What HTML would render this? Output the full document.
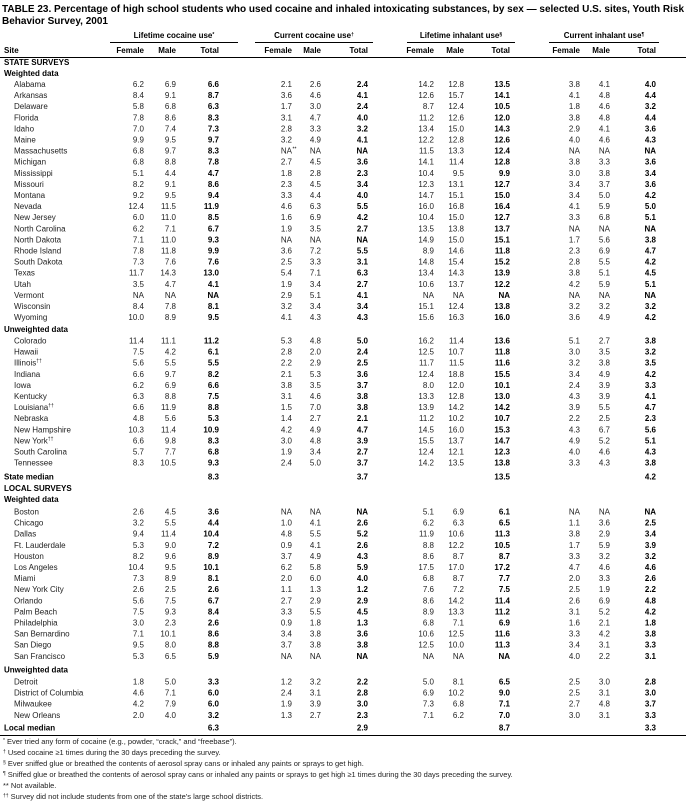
<!DOCTYPE html>
<html><head><meta charset="utf-8"><style>
html,body{margin:0;padding:0;background:#fff;}
svg{display:block;}
text{font-family:"Liberation Sans",Arial,sans-serif;fill:#000;}
.t{font-size:10px;font-weight:bold;}
.h{font-size:8px;font-weight:bold;}
.l{font-size:8px;fill:#222;}
.v{font-size:8px;fill:#222;text-anchor:end;}
.b{font-weight:bold;fill:#000;}
.c{font-size:8px;font-weight:bold;text-anchor:middle;}
.ch{font-size:8px;font-weight:bold;text-anchor:end;}
.f{font-size:7.5px;fill:#222;}
.s{font-size:5px;}
</style></head><body>
<svg width="686" height="803" viewBox="0 0 686 803" xmlns="http://www.w3.org/2000/svg">
<text class="t" x="2" y="12" textLength="682" lengthAdjust="spacingAndGlyphs">TABLE 23. Percentage of high school students who used cocaine and inhaled intoxicating substances, by sex — selected U.S. sites, Youth Risk</text>
<text class="t" x="2" y="24">Behavior Survey, 2001</text>

<text class="c" x="174" y="38">Lifetime cocaine use<tspan class="s" dy="-2">*</tspan></text>
<text class="c" x="314" y="38">Current cocaine use<tspan class="s" dy="-2">†</tspan></text>
<text class="c" x="461" y="38">Lifetime inhalant use<tspan class="s" dy="-2">§</tspan></text>
<text class="c" x="604" y="38">Current inhalant use<tspan class="s" dy="-2">¶</tspan></text>
<g stroke="#000" stroke-width="1">
<line x1="110" y1="42.5" x2="238" y2="42.5"/>
<line x1="255" y1="42.5" x2="373" y2="42.5"/>
<line x1="407" y1="42.5" x2="515" y2="42.5"/>
<line x1="549" y1="42.5" x2="659" y2="42.5"/>
<line x1="0" y1="57.5" x2="686" y2="57.5"/>
<line x1="0" y1="735.5" x2="686" y2="735.5"/>
</g>
<text class="h" x="4" y="53">Site</text>
<text class="ch" y="53"><tspan x="144">Female</tspan><tspan x="176">Male</tspan><tspan x="219">Total</tspan><tspan x="292">Female</tspan><tspan x="321">Male</tspan><tspan x="368">Total</tspan><tspan x="434">Female</tspan><tspan x="464">Male</tspan><tspan x="510">Total</tspan><tspan x="580">Female</tspan><tspan x="610">Male</tspan><tspan x="656">Total</tspan></text>

<text class="h" x="4" y="65">STATE SURVEYS</text>
<text class="h" x="4" y="76">Weighted data</text>

<text class="l" x="14" y="87">Alabama</text><text class="v" y="87"><tspan x="144">6.2</tspan><tspan x="176">6.9</tspan><tspan x="219" class="b">6.6</tspan><tspan x="292">2.1</tspan><tspan x="321">2.6</tspan><tspan x="368" class="b">2.4</tspan><tspan x="434">14.2</tspan><tspan x="464">12.8</tspan><tspan x="510" class="b">13.5</tspan><tspan x="580">3.8</tspan><tspan x="610">4.1</tspan><tspan x="656" class="b">4.0</tspan></text>
<text class="l" x="14" y="98.1">Arkansas</text><text class="v" y="98.1"><tspan x="144">8.4</tspan><tspan x="176">9.1</tspan><tspan x="219" class="b">8.7</tspan><tspan x="292">3.6</tspan><tspan x="321">4.6</tspan><tspan x="368" class="b">4.1</tspan><tspan x="434">12.6</tspan><tspan x="464">15.7</tspan><tspan x="510" class="b">14.1</tspan><tspan x="580">4.1</tspan><tspan x="610">4.8</tspan><tspan x="656" class="b">4.4</tspan></text>
<text class="l" x="14" y="109.2">Delaware</text><text class="v" y="109.2"><tspan x="144">5.8</tspan><tspan x="176">6.8</tspan><tspan x="219" class="b">6.3</tspan><tspan x="292">1.7</tspan><tspan x="321">3.0</tspan><tspan x="368" class="b">2.4</tspan><tspan x="434">8.7</tspan><tspan x="464">12.4</tspan><tspan x="510" class="b">10.5</tspan><tspan x="580">1.8</tspan><tspan x="610">4.6</tspan><tspan x="656" class="b">3.2</tspan></text>
<text class="l" x="14" y="120.3">Florida</text><text class="v" y="120.3"><tspan x="144">7.8</tspan><tspan x="176">8.6</tspan><tspan x="219" class="b">8.3</tspan><tspan x="292">3.1</tspan><tspan x="321">4.7</tspan><tspan x="368" class="b">4.0</tspan><tspan x="434">11.2</tspan><tspan x="464">12.6</tspan><tspan x="510" class="b">12.0</tspan><tspan x="580">3.8</tspan><tspan x="610">4.8</tspan><tspan x="656" class="b">4.4</tspan></text>
<text class="l" x="14" y="131.4">Idaho</text><text class="v" y="131.4"><tspan x="144">7.0</tspan><tspan x="176">7.4</tspan><tspan x="219" class="b">7.3</tspan><tspan x="292">2.8</tspan><tspan x="321">3.3</tspan><tspan x="368" class="b">3.2</tspan><tspan x="434">13.4</tspan><tspan x="464">15.0</tspan><tspan x="510" class="b">14.3</tspan><tspan x="580">2.9</tspan><tspan x="610">4.1</tspan><tspan x="656" class="b">3.6</tspan></text>
<text class="l" x="14" y="142.5">Maine</text><text class="v" y="142.5"><tspan x="144">9.9</tspan><tspan x="176">9.5</tspan><tspan x="219" class="b">9.7</tspan><tspan x="292">3.2</tspan><tspan x="321">4.9</tspan><tspan x="368" class="b">4.1</tspan><tspan x="434">12.2</tspan><tspan x="464">12.8</tspan><tspan x="510" class="b">12.6</tspan><tspan x="580">4.0</tspan><tspan x="610">4.6</tspan><tspan x="656" class="b">4.3</tspan></text>
<text class="l" x="14" y="153.6">Massachusetts</text><text class="v" y="153.6"><tspan x="144">6.8</tspan><tspan x="176">9.7</tspan><tspan x="219" class="b">8.3</tspan><tspan x="292">NA</tspan><tspan x="321">NA</tspan><tspan x="368" class="b">NA</tspan><tspan x="434">11.5</tspan><tspan x="464">13.3</tspan><tspan x="510" class="b">12.4</tspan><tspan x="580">NA</tspan><tspan x="610">NA</tspan><tspan x="656" class="b">NA</tspan></text><text class="s" x="292.5" y="150.5">**</text>
<text class="l" x="14" y="164.7">Michigan</text><text class="v" y="164.7"><tspan x="144">6.8</tspan><tspan x="176">8.8</tspan><tspan x="219" class="b">7.8</tspan><tspan x="292">2.7</tspan><tspan x="321">4.5</tspan><tspan x="368" class="b">3.6</tspan><tspan x="434">14.1</tspan><tspan x="464">11.4</tspan><tspan x="510" class="b">12.8</tspan><tspan x="580">3.8</tspan><tspan x="610">3.3</tspan><tspan x="656" class="b">3.6</tspan></text>
<text class="l" x="14" y="175.8">Mississippi</text><text class="v" y="175.8"><tspan x="144">5.1</tspan><tspan x="176">4.4</tspan><tspan x="219" class="b">4.7</tspan><tspan x="292">1.8</tspan><tspan x="321">2.8</tspan><tspan x="368" class="b">2.3</tspan><tspan x="434">10.4</tspan><tspan x="464">9.5</tspan><tspan x="510" class="b">9.9</tspan><tspan x="580">3.0</tspan><tspan x="610">3.8</tspan><tspan x="656" class="b">3.4</tspan></text>
<text class="l" x="14" y="186.9">Missouri</text><text class="v" y="186.9"><tspan x="144">8.2</tspan><tspan x="176">9.1</tspan><tspan x="219" class="b">8.6</tspan><tspan x="292">2.3</tspan><tspan x="321">4.5</tspan><tspan x="368" class="b">3.4</tspan><tspan x="434">12.3</tspan><tspan x="464">13.1</tspan><tspan x="510" class="b">12.7</tspan><tspan x="580">3.4</tspan><tspan x="610">3.7</tspan><tspan x="656" class="b">3.6</tspan></text>
<text class="l" x="14" y="198">Montana</text><text class="v" y="198"><tspan x="144">9.2</tspan><tspan x="176">9.5</tspan><tspan x="219" class="b">9.4</tspan><tspan x="292">3.3</tspan><tspan x="321">4.4</tspan><tspan x="368" class="b">4.0</tspan><tspan x="434">14.7</tspan><tspan x="464">15.1</tspan><tspan x="510" class="b">15.0</tspan><tspan x="580">3.4</tspan><tspan x="610">5.0</tspan><tspan x="656" class="b">4.2</tspan></text>
<text class="l" x="14" y="209.1">Nevada</text><text class="v" y="209.1"><tspan x="144">12.4</tspan><tspan x="176">11.5</tspan><tspan x="219" class="b">11.9</tspan><tspan x="292">4.6</tspan><tspan x="321">6.3</tspan><tspan x="368" class="b">5.5</tspan><tspan x="434">16.0</tspan><tspan x="464">16.8</tspan><tspan x="510" class="b">16.4</tspan><tspan x="580">4.1</tspan><tspan x="610">5.9</tspan><tspan x="656" class="b">5.0</tspan></text>
<text class="l" x="14" y="220.2">New Jersey</text><text class="v" y="220.2"><tspan x="144">6.0</tspan><tspan x="176">11.0</tspan><tspan x="219" class="b">8.5</tspan><tspan x="292">1.6</tspan><tspan x="321">6.9</tspan><tspan x="368" class="b">4.2</tspan><tspan x="434">10.4</tspan><tspan x="464">15.0</tspan><tspan x="510" class="b">12.7</tspan><tspan x="580">3.3</tspan><tspan x="610">6.8</tspan><tspan x="656" class="b">5.1</tspan></text>
<text class="l" x="14" y="231.3">North Carolina</text><text class="v" y="231.3"><tspan x="144">6.2</tspan><tspan x="176">7.1</tspan><tspan x="219" class="b">6.7</tspan><tspan x="292">1.9</tspan><tspan x="321">3.5</tspan><tspan x="368" class="b">2.7</tspan><tspan x="434">13.5</tspan><tspan x="464">13.8</tspan><tspan x="510" class="b">13.7</tspan><tspan x="580">NA</tspan><tspan x="610">NA</tspan><tspan x="656" class="b">NA</tspan></text>
<text class="l" x="14" y="242.4">North Dakota</text><text class="v" y="242.4"><tspan x="144">7.1</tspan><tspan x="176">11.0</tspan><tspan x="219" class="b">9.3</tspan><tspan x="292">NA</tspan><tspan x="321">NA</tspan><tspan x="368" class="b">NA</tspan><tspan x="434">14.9</tspan><tspan x="464">15.0</tspan><tspan x="510" class="b">15.1</tspan><tspan x="580">1.7</tspan><tspan x="610">5.6</tspan><tspan x="656" class="b">3.8</tspan></text>
<text class="l" x="14" y="253.5">Rhode Island</text><text class="v" y="253.5"><tspan x="144">7.8</tspan><tspan x="176">11.8</tspan><tspan x="219" class="b">9.9</tspan><tspan x="292">3.6</tspan><tspan x="321">7.2</tspan><tspan x="368" class="b">5.5</tspan><tspan x="434">8.9</tspan><tspan x="464">14.6</tspan><tspan x="510" class="b">11.8</tspan><tspan x="580">2.3</tspan><tspan x="610">6.9</tspan><tspan x="656" class="b">4.7</tspan></text>
<text class="l" x="14" y="264.6">South Dakota</text><text class="v" y="264.6"><tspan x="144">7.3</tspan><tspan x="176">7.6</tspan><tspan x="219" class="b">7.6</tspan><tspan x="292">2.5</tspan><tspan x="321">3.3</tspan><tspan x="368" class="b">3.1</tspan><tspan x="434">14.8</tspan><tspan x="464">15.4</tspan><tspan x="510" class="b">15.2</tspan><tspan x="580">2.8</tspan><tspan x="610">5.5</tspan><tspan x="656" class="b">4.2</tspan></text>
<text class="l" x="14" y="275.7">Texas</text><text class="v" y="275.7"><tspan x="144">11.7</tspan><tspan x="176">14.3</tspan><tspan x="219" class="b">13.0</tspan><tspan x="292">5.4</tspan><tspan x="321">7.1</tspan><tspan x="368" class="b">6.3</tspan><tspan x="434">13.4</tspan><tspan x="464">14.3</tspan><tspan x="510" class="b">13.9</tspan><tspan x="580">3.8</tspan><tspan x="610">5.1</tspan><tspan x="656" class="b">4.5</tspan></text>
<text class="l" x="14" y="286.8">Utah</text><text class="v" y="286.8"><tspan x="144">3.5</tspan><tspan x="176">4.7</tspan><tspan x="219" class="b">4.1</tspan><tspan x="292">1.9</tspan><tspan x="321">3.4</tspan><tspan x="368" class="b">2.7</tspan><tspan x="434">10.6</tspan><tspan x="464">13.7</tspan><tspan x="510" class="b">12.2</tspan><tspan x="580">4.2</tspan><tspan x="610">5.9</tspan><tspan x="656" class="b">5.1</tspan></text>
<text class="l" x="14" y="297.9">Vermont</text><text class="v" y="297.9"><tspan x="144">NA</tspan><tspan x="176">NA</tspan><tspan x="219" class="b">NA</tspan><tspan x="292">2.9</tspan><tspan x="321">5.1</tspan><tspan x="368" class="b">4.1</tspan><tspan x="434">NA</tspan><tspan x="464">NA</tspan><tspan x="510" class="b">NA</tspan><tspan x="580">NA</tspan><tspan x="610">NA</tspan><tspan x="656" class="b">NA</tspan></text>
<text class="l" x="14" y="309">Wisconsin</text><text class="v" y="309"><tspan x="144">8.4</tspan><tspan x="176">7.8</tspan><tspan x="219" class="b">8.1</tspan><tspan x="292">3.2</tspan><tspan x="321">3.4</tspan><tspan x="368" class="b">3.4</tspan><tspan x="434">15.1</tspan><tspan x="464">12.4</tspan><tspan x="510" class="b">13.8</tspan><tspan x="580">3.2</tspan><tspan x="610">3.2</tspan><tspan x="656" class="b">3.2</tspan></text>
<text class="l" x="14" y="320.1">Wyoming</text><text class="v" y="320.1"><tspan x="144">10.0</tspan><tspan x="176">8.9</tspan><tspan x="219" class="b">9.5</tspan><tspan x="292">4.1</tspan><tspan x="321">4.3</tspan><tspan x="368" class="b">4.3</tspan><tspan x="434">15.6</tspan><tspan x="464">16.3</tspan><tspan x="510" class="b">16.0</tspan><tspan x="580">3.6</tspan><tspan x="610">4.9</tspan><tspan x="656" class="b">4.2</tspan></text>

<text class="h" x="4" y="332">Unweighted data</text>
<text class="l" x="14" y="343.5">Colorado</text><text class="v" y="343.5"><tspan x="144">11.4</tspan><tspan x="176">11.1</tspan><tspan x="219" class="b">11.2</tspan><tspan x="292">5.3</tspan><tspan x="321">4.8</tspan><tspan x="368" class="b">5.0</tspan><tspan x="434">16.2</tspan><tspan x="464">11.4</tspan><tspan x="510" class="b">13.6</tspan><tspan x="580">5.1</tspan><tspan x="610">2.7</tspan><tspan x="656" class="b">3.8</tspan></text>
<text class="l" x="14" y="354.6">Hawaii</text><text class="v" y="354.6"><tspan x="144">7.5</tspan><tspan x="176">4.2</tspan><tspan x="219" class="b">6.1</tspan><tspan x="292">2.8</tspan><tspan x="321">2.0</tspan><tspan x="368" class="b">2.4</tspan><tspan x="434">12.5</tspan><tspan x="464">10.7</tspan><tspan x="510" class="b">11.8</tspan><tspan x="580">3.0</tspan><tspan x="610">3.5</tspan><tspan x="656" class="b">3.2</tspan></text>
<text class="l" x="14" y="365.7">Illinois<tspan class="s" dy="-3">††</tspan></text><text class="v" y="365.7"><tspan x="144">5.6</tspan><tspan x="176">5.5</tspan><tspan x="219" class="b">5.5</tspan><tspan x="292">2.2</tspan><tspan x="321">2.9</tspan><tspan x="368" class="b">2.5</tspan><tspan x="434">11.7</tspan><tspan x="464">11.5</tspan><tspan x="510" class="b">11.6</tspan><tspan x="580">3.2</tspan><tspan x="610">3.8</tspan><tspan x="656" class="b">3.5</tspan></text>
<text class="l" x="14" y="376.8">Indiana</text><text class="v" y="376.8"><tspan x="144">6.6</tspan><tspan x="176">9.7</tspan><tspan x="219" class="b">8.2</tspan><tspan x="292">2.1</tspan><tspan x="321">5.3</tspan><tspan x="368" class="b">3.6</tspan><tspan x="434">12.4</tspan><tspan x="464">18.8</tspan><tspan x="510" class="b">15.5</tspan><tspan x="580">3.4</tspan><tspan x="610">4.9</tspan><tspan x="656" class="b">4.2</tspan></text>
<text class="l" x="14" y="387.9">Iowa</text><text class="v" y="387.9"><tspan x="144">6.2</tspan><tspan x="176">6.9</tspan><tspan x="219" class="b">6.6</tspan><tspan x="292">3.8</tspan><tspan x="321">3.5</tspan><tspan x="368" class="b">3.7</tspan><tspan x="434">8.0</tspan><tspan x="464">12.0</tspan><tspan x="510" class="b">10.1</tspan><tspan x="580">2.4</tspan><tspan x="610">3.9</tspan><tspan x="656" class="b">3.3</tspan></text>
<text class="l" x="14" y="399">Kentucky</text><text class="v" y="399"><tspan x="144">6.3</tspan><tspan x="176">8.8</tspan><tspan x="219" class="b">7.5</tspan><tspan x="292">3.1</tspan><tspan x="321">4.6</tspan><tspan x="368" class="b">3.8</tspan><tspan x="434">13.3</tspan><tspan x="464">12.8</tspan><tspan x="510" class="b">13.0</tspan><tspan x="580">4.3</tspan><tspan x="610">3.9</tspan><tspan x="656" class="b">4.1</tspan></text>
<text class="l" x="14" y="410.1">Louisiana<tspan class="s" dy="-3">††</tspan></text><text class="v" y="410.1"><tspan x="144">6.6</tspan><tspan x="176">11.9</tspan><tspan x="219" class="b">8.8</tspan><tspan x="292">1.5</tspan><tspan x="321">7.0</tspan><tspan x="368" class="b">3.8</tspan><tspan x="434">13.9</tspan><tspan x="464">14.2</tspan><tspan x="510" class="b">14.2</tspan><tspan x="580">3.9</tspan><tspan x="610">5.5</tspan><tspan x="656" class="b">4.7</tspan></text>
<text class="l" x="14" y="421.2">Nebraska</text><text class="v" y="421.2"><tspan x="144">4.8</tspan><tspan x="176">5.6</tspan><tspan x="219" class="b">5.3</tspan><tspan x="292">1.4</tspan><tspan x="321">2.7</tspan><tspan x="368" class="b">2.1</tspan><tspan x="434">11.2</tspan><tspan x="464">10.2</tspan><tspan x="510" class="b">10.7</tspan><tspan x="580">2.2</tspan><tspan x="610">2.5</tspan><tspan x="656" class="b">2.3</tspan></text>
<text class="l" x="14" y="432.3">New Hampshire</text><text class="v" y="432.3"><tspan x="144">10.3</tspan><tspan x="176">11.4</tspan><tspan x="219" class="b">10.9</tspan><tspan x="292">4.2</tspan><tspan x="321">4.9</tspan><tspan x="368" class="b">4.7</tspan><tspan x="434">14.5</tspan><tspan x="464">16.0</tspan><tspan x="510" class="b">15.3</tspan><tspan x="580">4.3</tspan><tspan x="610">6.7</tspan><tspan x="656" class="b">5.6</tspan></text>
<text class="l" x="14" y="443.4">New York<tspan class="s" dy="-3">††</tspan></text><text class="v" y="443.4"><tspan x="144">6.6</tspan><tspan x="176">9.8</tspan><tspan x="219" class="b">8.3</tspan><tspan x="292">3.0</tspan><tspan x="321">4.8</tspan><tspan x="368" class="b">3.9</tspan><tspan x="434">15.5</tspan><tspan x="464">13.7</tspan><tspan x="510" class="b">14.7</tspan><tspan x="580">4.9</tspan><tspan x="610">5.2</tspan><tspan x="656" class="b">5.1</tspan></text>
<text class="l" x="14" y="454.5">South Carolina</text><text class="v" y="454.5"><tspan x="144">5.7</tspan><tspan x="176">7.7</tspan><tspan x="219" class="b">6.8</tspan><tspan x="292">1.9</tspan><tspan x="321">3.4</tspan><tspan x="368" class="b">2.7</tspan><tspan x="434">12.4</tspan><tspan x="464">12.1</tspan><tspan x="510" class="b">12.3</tspan><tspan x="580">4.0</tspan><tspan x="610">4.6</tspan><tspan x="656" class="b">4.3</tspan></text>
<text class="l" x="14" y="465.6">Tennessee</text><text class="v" y="465.6"><tspan x="144">8.3</tspan><tspan x="176">10.5</tspan><tspan x="219" class="b">9.3</tspan><tspan x="292">2.4</tspan><tspan x="321">5.0</tspan><tspan x="368" class="b">3.7</tspan><tspan x="434">14.2</tspan><tspan x="464">13.5</tspan><tspan x="510" class="b">13.8</tspan><tspan x="580">3.3</tspan><tspan x="610">4.3</tspan><tspan x="656" class="b">3.8</tspan></text>

<text class="h" x="4" y="479.5">State median</text><text class="v b" y="479.5"><tspan x="219">8.3</tspan><tspan x="368">3.7</tspan><tspan x="510">13.5</tspan><tspan x="656">4.2</tspan></text>

<text class="h" x="4" y="491">LOCAL SURVEYS</text>
<text class="h" x="4" y="502">Weighted data</text>
<text class="l" x="14" y="514.5">Boston</text><text class="v" y="514.5"><tspan x="144">2.6</tspan><tspan x="176">4.5</tspan><tspan x="219" class="b">3.6</tspan><tspan x="292">NA</tspan><tspan x="321">NA</tspan><tspan x="368" class="b">NA</tspan><tspan x="434">5.1</tspan><tspan x="464">6.9</tspan><tspan x="510" class="b">6.1</tspan><tspan x="580">NA</tspan><tspan x="610">NA</tspan><tspan x="656" class="b">NA</tspan></text>
<text class="l" x="14" y="525.6">Chicago</text><text class="v" y="525.6"><tspan x="144">3.2</tspan><tspan x="176">5.5</tspan><tspan x="219" class="b">4.4</tspan><tspan x="292">1.0</tspan><tspan x="321">4.1</tspan><tspan x="368" class="b">2.6</tspan><tspan x="434">6.2</tspan><tspan x="464">6.3</tspan><tspan x="510" class="b">6.5</tspan><tspan x="580">1.1</tspan><tspan x="610">3.6</tspan><tspan x="656" class="b">2.5</tspan></text>
<text class="l" x="14" y="536.7">Dallas</text><text class="v" y="536.7"><tspan x="144">9.4</tspan><tspan x="176">11.4</tspan><tspan x="219" class="b">10.4</tspan><tspan x="292">4.8</tspan><tspan x="321">5.5</tspan><tspan x="368" class="b">5.2</tspan><tspan x="434">11.9</tspan><tspan x="464">10.6</tspan><tspan x="510" class="b">11.3</tspan><tspan x="580">3.8</tspan><tspan x="610">2.9</tspan><tspan x="656" class="b">3.4</tspan></text>
<text class="l" x="14" y="547.8">Ft. Lauderdale</text><text class="v" y="547.8"><tspan x="144">5.3</tspan><tspan x="176">9.0</tspan><tspan x="219" class="b">7.2</tspan><tspan x="292">0.9</tspan><tspan x="321">4.1</tspan><tspan x="368" class="b">2.6</tspan><tspan x="434">8.8</tspan><tspan x="464">12.2</tspan><tspan x="510" class="b">10.5</tspan><tspan x="580">1.7</tspan><tspan x="610">5.9</tspan><tspan x="656" class="b">3.9</tspan></text>
<text class="l" x="14" y="558.9">Houston</text><text class="v" y="558.9"><tspan x="144">8.2</tspan><tspan x="176">9.6</tspan><tspan x="219" class="b">8.9</tspan><tspan x="292">3.7</tspan><tspan x="321">4.9</tspan><tspan x="368" class="b">4.3</tspan><tspan x="434">8.6</tspan><tspan x="464">8.7</tspan><tspan x="510" class="b">8.7</tspan><tspan x="580">3.3</tspan><tspan x="610">3.2</tspan><tspan x="656" class="b">3.2</tspan></text>
<text class="l" x="14" y="570">Los Angeles</text><text class="v" y="570"><tspan x="144">10.4</tspan><tspan x="176">9.5</tspan><tspan x="219" class="b">10.1</tspan><tspan x="292">6.2</tspan><tspan x="321">5.8</tspan><tspan x="368" class="b">5.9</tspan><tspan x="434">17.5</tspan><tspan x="464">17.0</tspan><tspan x="510" class="b">17.2</tspan><tspan x="580">4.7</tspan><tspan x="610">4.6</tspan><tspan x="656" class="b">4.6</tspan></text>
<text class="l" x="14" y="581.1">Miami</text><text class="v" y="581.1"><tspan x="144">7.3</tspan><tspan x="176">8.9</tspan><tspan x="219" class="b">8.1</tspan><tspan x="292">2.0</tspan><tspan x="321">6.0</tspan><tspan x="368" class="b">4.0</tspan><tspan x="434">6.8</tspan><tspan x="464">8.7</tspan><tspan x="510" class="b">7.7</tspan><tspan x="580">2.0</tspan><tspan x="610">3.3</tspan><tspan x="656" class="b">2.6</tspan></text>
<text class="l" x="14" y="592.2">New York City</text><text class="v" y="592.2"><tspan x="144">2.6</tspan><tspan x="176">2.5</tspan><tspan x="219" class="b">2.6</tspan><tspan x="292">1.1</tspan><tspan x="321">1.3</tspan><tspan x="368" class="b">1.2</tspan><tspan x="434">7.6</tspan><tspan x="464">7.2</tspan><tspan x="510" class="b">7.5</tspan><tspan x="580">2.5</tspan><tspan x="610">1.9</tspan><tspan x="656" class="b">2.2</tspan></text>
<text class="l" x="14" y="603.3">Orlando</text><text class="v" y="603.3"><tspan x="144">5.6</tspan><tspan x="176">7.5</tspan><tspan x="219" class="b">6.7</tspan><tspan x="292">2.7</tspan><tspan x="321">2.9</tspan><tspan x="368" class="b">2.9</tspan><tspan x="434">8.6</tspan><tspan x="464">14.2</tspan><tspan x="510" class="b">11.4</tspan><tspan x="580">2.6</tspan><tspan x="610">6.9</tspan><tspan x="656" class="b">4.8</tspan></text>
<text class="l" x="14" y="614.4">Palm Beach</text><text class="v" y="614.4"><tspan x="144">7.5</tspan><tspan x="176">9.3</tspan><tspan x="219" class="b">8.4</tspan><tspan x="292">3.3</tspan><tspan x="321">5.5</tspan><tspan x="368" class="b">4.5</tspan><tspan x="434">8.9</tspan><tspan x="464">13.3</tspan><tspan x="510" class="b">11.2</tspan><tspan x="580">3.1</tspan><tspan x="610">5.2</tspan><tspan x="656" class="b">4.2</tspan></text>
<text class="l" x="14" y="625.5">Philadelphia</text><text class="v" y="625.5"><tspan x="144">3.0</tspan><tspan x="176">2.3</tspan><tspan x="219" class="b">2.6</tspan><tspan x="292">0.9</tspan><tspan x="321">1.8</tspan><tspan x="368" class="b">1.3</tspan><tspan x="434">6.8</tspan><tspan x="464">7.1</tspan><tspan x="510" class="b">6.9</tspan><tspan x="580">1.6</tspan><tspan x="610">2.1</tspan><tspan x="656" class="b">1.8</tspan></text>
<text class="l" x="14" y="636.6">San Bernardino</text><text class="v" y="636.6"><tspan x="144">7.1</tspan><tspan x="176">10.1</tspan><tspan x="219" class="b">8.6</tspan><tspan x="292">3.4</tspan><tspan x="321">3.8</tspan><tspan x="368" class="b">3.6</tspan><tspan x="434">10.6</tspan><tspan x="464">12.5</tspan><tspan x="510" class="b">11.6</tspan><tspan x="580">3.3</tspan><tspan x="610">4.2</tspan><tspan x="656" class="b">3.8</tspan></text>
<text class="l" x="14" y="647.7">San Diego</text><text class="v" y="647.7"><tspan x="144">9.5</tspan><tspan x="176">8.0</tspan><tspan x="219" class="b">8.8</tspan><tspan x="292">3.7</tspan><tspan x="321">3.8</tspan><tspan x="368" class="b">3.8</tspan><tspan x="434">12.5</tspan><tspan x="464">10.0</tspan><tspan x="510" class="b">11.3</tspan><tspan x="580">3.4</tspan><tspan x="610">3.1</tspan><tspan x="656" class="b">3.3</tspan></text>
<text class="l" x="14" y="658.8">San Francisco</text><text class="v" y="658.8"><tspan x="144">5.3</tspan><tspan x="176">6.5</tspan><tspan x="219" class="b">5.9</tspan><tspan x="292">NA</tspan><tspan x="321">NA</tspan><tspan x="368" class="b">NA</tspan><tspan x="434">NA</tspan><tspan x="464">NA</tspan><tspan x="510" class="b">NA</tspan><tspan x="580">4.0</tspan><tspan x="610">2.2</tspan><tspan x="656" class="b">3.1</tspan></text>

<text class="h" x="4" y="672.5">Unweighted data</text>
<text class="l" x="14" y="684.5">Detroit</text><text class="v" y="684.5"><tspan x="144">1.8</tspan><tspan x="176">5.0</tspan><tspan x="219" class="b">3.3</tspan><tspan x="292">1.2</tspan><tspan x="321">3.2</tspan><tspan x="368" class="b">2.2</tspan><tspan x="434">5.0</tspan><tspan x="464">8.1</tspan><tspan x="510" class="b">6.5</tspan><tspan x="580">2.5</tspan><tspan x="610">3.0</tspan><tspan x="656" class="b">2.8</tspan></text>
<text class="l" x="14" y="695.6">District of Columbia</text><text class="v" y="695.6"><tspan x="144">4.6</tspan><tspan x="176">7.1</tspan><tspan x="219" class="b">6.0</tspan><tspan x="292">2.4</tspan><tspan x="321">3.1</tspan><tspan x="368" class="b">2.8</tspan><tspan x="434">6.9</tspan><tspan x="464">10.2</tspan><tspan x="510" class="b">9.0</tspan><tspan x="580">2.5</tspan><tspan x="610">3.1</tspan><tspan x="656" class="b">3.0</tspan></text>
<text class="l" x="14" y="706.7">Milwaukee</text><text class="v" y="706.7"><tspan x="144">4.2</tspan><tspan x="176">7.9</tspan><tspan x="219" class="b">6.0</tspan><tspan x="292">1.9</tspan><tspan x="321">3.9</tspan><tspan x="368" class="b">3.0</tspan><tspan x="434">7.3</tspan><tspan x="464">6.8</tspan><tspan x="510" class="b">7.1</tspan><tspan x="580">2.7</tspan><tspan x="610">4.8</tspan><tspan x="656" class="b">3.7</tspan></text>
<text class="l" x="14" y="717.8">New Orleans</text><text class="v" y="717.8"><tspan x="144">2.0</tspan><tspan x="176">4.0</tspan><tspan x="219" class="b">3.2</tspan><tspan x="292">1.3</tspan><tspan x="321">2.7</tspan><tspan x="368" class="b">2.3</tspan><tspan x="434">7.1</tspan><tspan x="464">6.2</tspan><tspan x="510" class="b">7.0</tspan><tspan x="580">3.0</tspan><tspan x="610">3.1</tspan><tspan x="656" class="b">3.3</tspan></text>

<text class="h" x="4" y="730.5">Local median</text><text class="v b" y="730.5"><tspan x="219">6.3</tspan><tspan x="368">2.9</tspan><tspan x="510">8.7</tspan><tspan x="656">3.3</tspan></text>

<text class="f" x="3" y="744"><tspan class="s" dy="-2">*</tspan><tspan dy="2"> Ever tried any form of cocaine (e.g., powder, “crack,” and “freebase”).</tspan></text>
<text class="f" x="3" y="755"><tspan class="s" dy="-2">†</tspan><tspan dy="2"> Used cocaine ≥1 times during the 30 days preceding the survey.</tspan></text>
<text class="f" x="3" y="766"><tspan class="s" dy="-2">§</tspan><tspan dy="2"> Ever sniffed glue or breathed the contents of aerosol spray cans or inhaled any paints or sprays to get high.</tspan></text>
<text class="f" x="3" y="777"><tspan class="s" dy="-2">¶</tspan><tspan dy="2"> Sniffed glue or breathed the contents of aerosol spray cans or inhaled any paints or sprays to get high ≥1 times during the 30 days preceding the survey.</tspan></text>
<text class="f" x="3" y="788">** Not available.</text>
<text class="f" x="3" y="799"><tspan class="s" dy="-2">††</tspan><tspan dy="2"> Survey did not include students from one of the state’s large school districts.</tspan></text>
</svg>
</body></html>
